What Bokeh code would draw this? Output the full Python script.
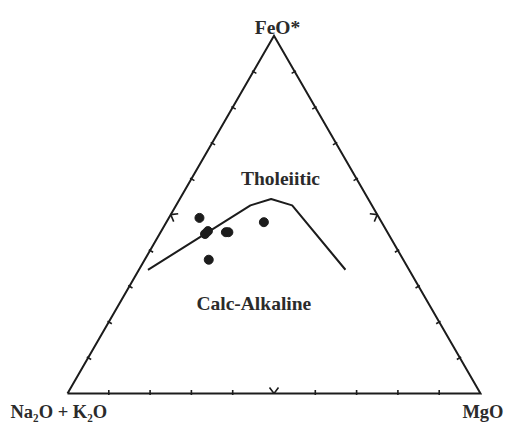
import math
from bokeh.plotting import figure
from bokeh.models import Range1d, Label
from bokeh.embed import file_html
from bokeh.resources import INLINE

# ---- data (ternary compositions, %) ----
apex_labels = ["FeO*", "Na\u2082O + K\u2082O", "MgO"]
field_labels = ["Tholeiitic", "Calc-Alkaline"]

# samples: FeO*, Na2O+K2O, MgO
sample_feo = [49.1, 44.6, 45.4, 45.1, 45.1, 37.4, 47.9]
sample_alk = [43.5, 44.4, 43.3, 39.1, 38.5, 47.1, 28.5]
sample_mgo = [7.4, 11.0, 11.3, 15.8, 16.4, 15.5, 23.6]

# tholeiitic / calc-alkaline boundary
bound_feo = [34.6, 52.6, 54.4, 52.6, 34.6]
bound_alk = [63.3, 29.4, 23.5, 19.3, 15.4]
bound_mgo = [2.2, 18.0, 22.1, 28.1, 50.0]

tick_fracs = [0.1, 0.2, 0.3, 0.4, 0.5, 0.6, 0.7, 0.8, 0.9]

# ---- helpers ----
H = math.sqrt(3) / 2
PX = 1.0 / 413.0  # data units per screen pixel


def tern(f, a, m):
    s = f + a + m
    F, M = f / s, m / s
    return M + F / 2.0, F * H


def tern_list(fs, as_, ms):
    xs, ys = [], []
    for f, a, m in zip(fs, as_, ms):
        x, y = tern(f, a, m)
        xs.append(x)
        ys.append(y)
    return xs, ys


W, Hgt = 507, 425
x0 = -67 * PX
y0 = -32 * PX
p = figure(width=W, height=Hgt, output_backend="svg", toolbar_location=None,
           x_axis_type=None, y_axis_type=None, min_border=0,
           x_range=Range1d(x0, x0 + W * PX), y_range=Range1d(y0, y0 + Hgt * PX),
           outline_line_color=None, background_fill_color="white")

INK = "#1c1c1c"
TXT = "#2b2b2b"

# triangle
vA = tern(0, 100, 0)
vM = tern(0, 0, 100)
vF = tern(100, 0, 0)
p.line([vA[0], vM[0], vF[0], vA[0]], [vA[1], vM[1], vF[1], vA[1]],
       line_color=INK, line_width=2, line_join="miter")

# ticks along edges
cx = (vA[0] + vM[0] + vF[0]) / 3
cy = (vA[1] + vM[1] + vF[1]) / 3
txs, tys = [], []
for P, Q in [(vA, vM), (vM, vF), (vF, vA)]:
    dx, dy = Q[0] - P[0], Q[1] - P[1]
    L = math.hypot(dx, dy)
    tx, ty = dx / L, dy / L
    nx, ny = -ty, tx
    mx, my = (P[0] + Q[0]) / 2, (P[1] + Q[1]) / 2
    if (cx - mx) * nx + (cy - my) * ny < 0:
        nx, ny = -nx, -ny
    for fr in tick_fracs:
        bx, by = P[0] + fr * dx, P[1] + fr * dy
        if abs(fr - 0.5) < 1e-9:
            a1 = (bx + (6 * nx - 4.5 * tx) * PX, by + (6 * ny - 4.5 * ty) * PX)
            a2 = (bx + (6 * nx + 4.5 * tx) * PX, by + (6 * ny + 4.5 * ty) * PX)
            txs.append([a1[0], bx, a2[0]])
            tys.append([a1[1], by, a2[1]])
        else:
            txs.append([bx - 1.5 * nx * PX, bx + 3.5 * nx * PX])
            tys.append([by - 1.5 * ny * PX, by + 3.5 * ny * PX])
p.multi_line(txs, tys, line_color=INK, line_width=1.6)

# boundary line
bx_, by_ = tern_list(bound_feo, bound_alk, bound_mgo)
p.line(bx_, by_, line_color=INK, line_width=2)

# samples
sx, sy = tern_list(sample_feo, sample_alk, sample_mgo)
p.scatter(sx, sy, size=9, fill_color=INK, line_color=INK)

# labels
font = "Liberation Serif"
def lab(x, y, text, align, size="19.5px"):
    p.add_layout(Label(x=x, y=y, text=text, text_font=font, text_font_size=size,
                       text_font_style="bold", text_color=TXT, text_align=align,
                       text_baseline="alphabetic"))

lab(vF[0] + 3.5 * PX, vF[1] + 8.3 * PX, apex_labels[0], "center")
lab(vA[0] - 57 * PX, vA[1] - 18 * PX, apex_labels[1], "left", "18.5px")
lab(vM[0] + 23 * PX, vM[1] - 18 * PX, apex_labels[2], "right", "18.5px")
lab(0.5157, 0.5206, field_labels[0], "center")
lab(0.4511, 0.2172, field_labels[1], "center")

open("out.html", "w").write(file_html(p, INLINE))
